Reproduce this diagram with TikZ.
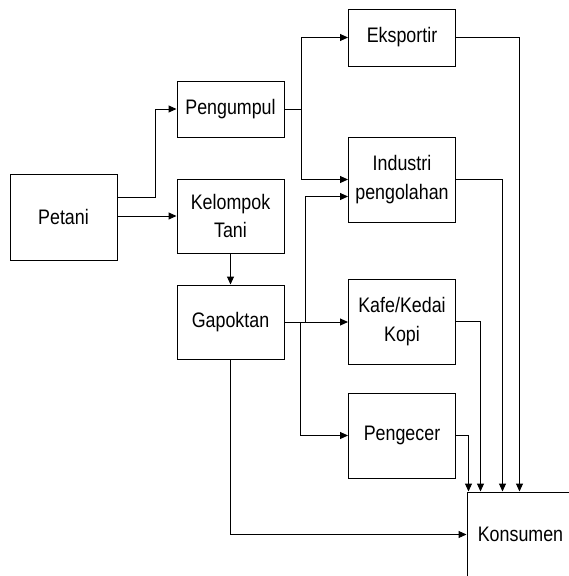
\documentclass[tikz,border=0pt]{standalone}
\usepackage{fontspec}
\setmainfont{Liberation Sans}[FakeStretch=0.85]
\usetikzlibrary{arrows.meta}
\begin{document}
\begin{tikzpicture}[box/.style={draw,minimum width=107pt,minimum height=85pt,align=center,inner sep=0pt},
>={Triangle[length=8pt,width=7pt]},line width=1pt,x=1pt,y=-1pt]
\useasboundingbox (0,0) rectangle (569,576);
\clip (0,0) rectangle (569,576);
\fontsize{21}{28.5}\selectfont

\node[box,minimum height=86pt] (petani) at (63.5,217) {Petani};

\node[box,minimum height=56pt] (pengumpul) at (230.5,109) {Pengumpul};
\node[box,minimum height=74pt] (kelompok) at (230.5,216) {Kelompok\\Tani};
\node[box,minimum height=74pt] (gapoktan) at (230.5,322) {Gapoktan};

\node[box,minimum height=57pt] (eksportir) at (402,37.5) {Eksportir};
\node[box] (industri) at (402,179.5) {Industri\\pengolahan};
\node[box] (kafe) at (402,321.5) {Kafe/Kedai\\Kopi};
\node[box] (pengecer) at (402,435.5) {Pengecer};

\node[box] (konsumen) at (520.5,534.5) {Konsumen};

\draw[->] ([yshift=20pt]petani.east) -- ++(38,0) |- (pengumpul);
\draw[->] (petani.east |- kelompok) -- (kelompok);
\draw[->] (kelompok) -- (gapoktan);

\draw[->] (pengumpul.east) -- ++(17,0) |- (eksportir);
\draw[->] ([xshift=17pt]pengumpul.east) |- (industri);

\draw[->] (gapoktan.east) -- (gapoktan.east -| kafe.west);
\draw[->] ([xshift=21pt]gapoktan.east) |- ([yshift=-17pt]industri.west);
\draw[->] ([xshift=16pt]gapoktan.east) |- (pengecer);
\draw[->] (gapoktan) |- (konsumen);

% semua ke konsumen
\draw[->] (eksportir) -| ([xshift=53pt]konsumen.north west);
\draw[->] (industri) -| ([xshift=36pt]konsumen.north west);
\draw[->] (kafe) -| ([xshift=14pt]konsumen.north west);
\draw[->] (pengecer) -| ([xshift=2pt]konsumen.north west);
\end{tikzpicture}
\end{document}
